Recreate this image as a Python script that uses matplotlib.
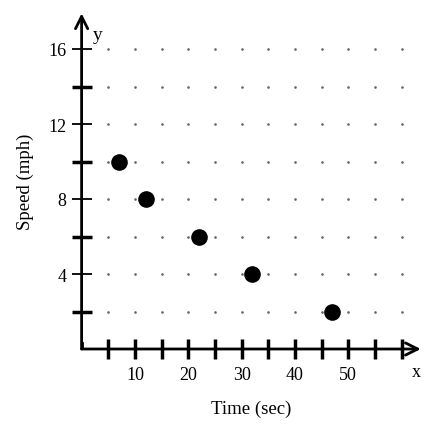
import matplotlib.pyplot as plt
import numpy as np

# data
time_sec = [7, 12, 22, 32, 47]
speed_mph = [10, 8, 6, 4, 2]

x_ticks = list(range(5, 61, 5))
x_labels = ['' if t not in (10, 20, 30, 40, 50) else str(t) for t in x_ticks]
y_major = [4, 8, 12, 16]
y_minor = [2, 6, 10, 14]
y_grid = list(range(2, 17, 2))

plt.rcParams['font.family'] = ['Liberation Serif', 'DejaVu Serif']

W, H = 435, 427
fig = plt.figure(figsize=(W / 100, H / 100), dpi=100)
xmax, ymax = 63.6, 17.9
px_x = 5.333  # pixels per x unit
px_y = 18.75  # pixels per y unit
left, bottom = 81.6, H - 350
ax = fig.add_axes([left / W, bottom / H, xmax * px_x / W, ymax * px_y / H])
ax.set_xlim(0, xmax)
ax.set_ylim(0, ymax)
for s in ax.spines.values():
    s.set_visible(False)

# dotted grid
gx, gy = np.meshgrid(x_ticks, y_grid)
ax.scatter(gx.ravel(), gy.ravel(), s=0.8, color='#666666', zorder=1)

# axes with arrows
arrow = dict(arrowstyle='->', lw=2, color='black', mutation_scale=22,
             shrinkA=0, shrinkB=0)
ax.annotate('', xy=(xmax, 0), xytext=(0, 0), arrowprops=arrow,
            annotation_clip=False)
ax.annotate('', xy=(0, ymax), xytext=(0, 0), arrowprops=arrow,
            annotation_clip=False)
ax.plot([0, 0], [0, 0.3], color='black', lw=2)

ax.set_xticks(x_ticks)
ax.set_xticklabels(x_labels)
ax.set_yticks(y_major)
ax.set_yticks(y_minor, minor=True)
ax.tick_params(axis='x', direction='inout', length=14, width=2.5,
               labelsize=13, pad=5, colors='black')
ax.tick_params(axis='y', which='major', direction='inout', length=14,
               width=1.3, labelsize=13, pad=4, colors='black')
ax.tick_params(axis='y', which='minor', direction='inout', length=14,
               width=2.5)

ax.scatter(time_sec, speed_mph, s=120, color='black', zorder=3)

ax.text(62.7, -1.2, 'x', fontsize=13, ha='center', va='center')
ax.text(3.1, 16.8, 'y', fontsize=14, ha='center', va='center')

ax.set_xlabel('Time (sec)', fontsize=13.5, labelpad=12)
ax.set_ylabel('Speed (mph)', fontsize=13.5, labelpad=10)

fig.savefig('out.png', dpi=100)
